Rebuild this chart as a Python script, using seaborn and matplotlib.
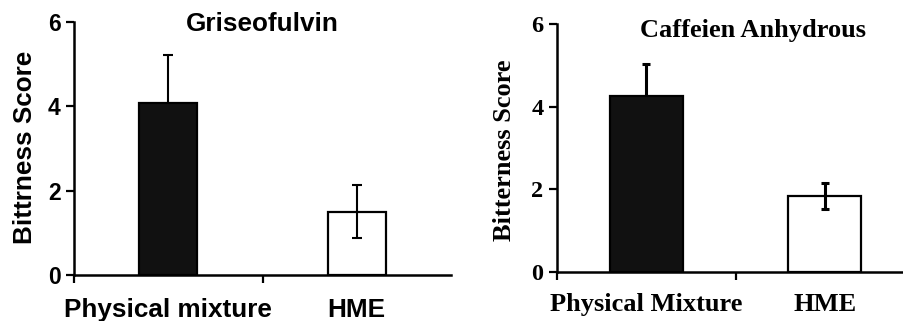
import numpy as np
import pandas as pd
import matplotlib
matplotlib.use('Agg')
import matplotlib.pyplot as plt
import seaborn as sns

# Griseofulvin panel
grise_cats = ['Physical mixture', 'HME']
grise_means = [4.07, 1.50]
grise_err = [1.14, 0.63]

# Caffeine panel
caff_cats = ['Physical Mixture', 'HME']
caff_means = [4.26, 1.83]
caff_err = [0.77, 0.31]

bar_colors = ['#111111', 'white']

sns.set_style('ticks', {'text.color': 'black', 'axes.labelcolor': 'black',
                        'xtick.color': 'black', 'ytick.color': 'black',
                        'axes.edgecolor': 'black'})

fig = plt.figure(figsize=(9.04, 3.21), dpi=100)
ax1 = fig.add_axes([0.0819, 0.1433, 0.417, 0.788])
ax2 = fig.add_axes([0.6162, 0.1536, 0.395, 0.7716])


def draw_panel(ax, cats, means, errs, width, fam, title, title_xy, ylabel,
               label_xy, fs_tick, fs_text, err_lw, cap, xpad, ypad):
    df = pd.DataFrame({'group': cats, 'score': means})
    sns.barplot(data=df, x='group', y='score', hue='group', order=cats, hue_order=cats,
                palette=bar_colors, edgecolor='black', linewidth=1.6,
                width=width, errorbar=None, legend=False, ax=ax)
    for p in ax.patches:
        p.set_zorder(2)
    # error bars: behind the dark bar (only upper half shows), over the white one
    for i, (m, e) in enumerate(zip(means, errs)):
        z = 1 if bar_colors[i] != 'white' else 3
        ax.errorbar(i, m, yerr=e, fmt='none', ecolor='black',
                    elinewidth=err_lw, capsize=cap, capthick=err_lw, zorder=z)
    ax.set_xlim(-0.5, 1.5)
    ax.set_ylim(0, 6)
    ax.set_yticks([0, 2, 4, 6])
    ax.set_xticks([-0.5, 0.5])
    ax.set_xticklabels([])
    ax.set_xticks([0, 1], minor=True)
    ax.set_xticklabels(cats, minor=True)
    ax.tick_params(axis='x', which='minor', length=0, pad=xpad)
    ax.tick_params(axis='x', which='major', length=6, width=1.6, direction='out')
    ax.tick_params(axis='y', length=5.5, width=1.6, pad=ypad)
    for lab in ax.get_xticklabels(minor=True):
        lab.set_fontfamily(fam)
        lab.set_fontweight('bold')
        lab.set_fontsize(fs_text)
        lab.set_color('black')
    for lab in ax.get_yticklabels():
        lab.set_fontfamily(fam)
        lab.set_fontweight('bold')
        lab.set_fontsize(fs_tick)
        lab.set_color('black')
    ax.set_xlabel('')
    ax.set_ylabel(ylabel, fontfamily=fam, fontweight='bold', fontsize=fs_text, color='black')
    ax.yaxis.set_label_coords(*label_xy)
    ax.text(title_xy[0], title_xy[1], title, ha='center', va='center',
            fontfamily=fam, fontweight='bold', fontsize=fs_text, color='black')
    sns.despine(ax=ax)
    for s in ['left', 'bottom']:
        ax.spines[s].set_linewidth(1.8)
        ax.spines[s].set_color('black')


draw_panel(ax1, grise_cats, grise_means, grise_err, 0.31, 'Liberation Sans',
           'Griseofulvin', (0.5, 5.95), 'Bittrness Score', (-0.098, 0.506),
           16.5, 18.8, 1.5, 3.5, 16.5, 4)
draw_panel(ax2, caff_cats, caff_means, caff_err, 0.41, 'Liberation Serif',
           'Caffeien Anhydrous', (0.6, 5.85), 'Bitterness Score', (-0.115, 0.49),
           17.5, 19, 2.2, 3.2, 15, 4.3)

fig.savefig('out.png', dpi=100)
